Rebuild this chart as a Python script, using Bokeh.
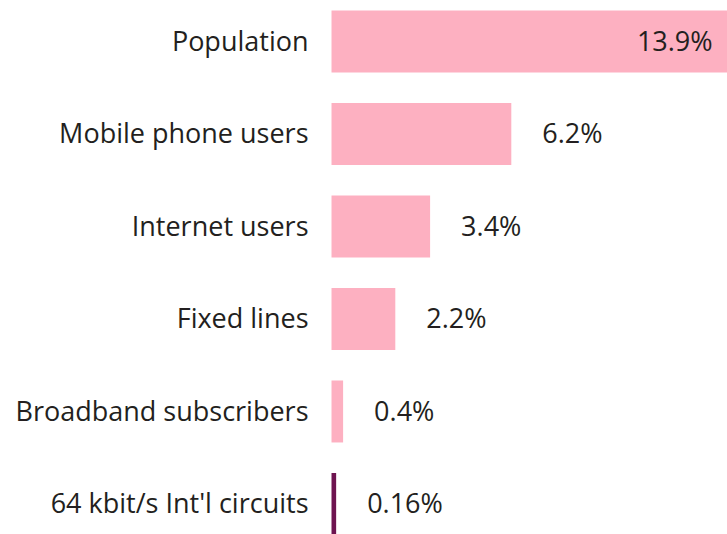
from bokeh.plotting import figure
from bokeh.models import Range1d, ColumnDataSource
from bokeh.core.properties import value
from bokeh.embed import file_html
from bokeh.resources import INLINE

categories = ["Population", "Mobile phone users", "Internet users", "Fixed lines",
              "Broadband subscribers", "64 kbit/s Int'l circuits"]
values = [13.9, 6.2, 3.4, 2.2, 0.4, 0.16]
value_labels = ["13.9%", "6.2%", "3.4%", "2.2%", "0.4%", "0.16%"]
colors = ["#FDB0C1", "#FDB0C1", "#FDB0C1", "#FDB0C1", "#FDB0C1", "#6E1450"]

idx = list(range(len(categories)))
src = ColumnDataSource(dict(y=idx, v=values, c=colors, cat=categories, lab=value_labels))

p = figure(width=727, height=534, output_backend="svg", toolbar_location=None,
           x_range=Range1d(-11.414, 13.655), y_range=Range1d(5.33, -0.443),
           min_border=0, outline_line_color=None,
           x_axis_location=None, y_axis_location=None)
p.xgrid.visible = False
p.ygrid.visible = False
p.background_fill_color = "white"
p.border_fill_color = "white"

p.hbar(y="y", left=0, right="v", height=0.67, fill_color="c", line_color=None, source=src)

FONT = value("Open Sans")
SIZE = "27px"
p.text(x=0, y="y", text="cat", source=src, text_align="right", text_baseline="middle",
       x_offset=-23, y_offset=-1, text_font=FONT, text_font_size=SIZE, text_color="#231F20")

inside = ColumnDataSource(dict(y=idx[:1], v=values[:1], lab=value_labels[:1]))
outside = ColumnDataSource(dict(y=idx[1:], v=values[1:], lab=value_labels[1:]))
p.text(x="v", y="y", text="lab", source=inside, text_align="right", text_baseline="middle",
       x_offset=-22, y_offset=-1, text_font=FONT, text_font_size=SIZE, text_color="#231F20")
p.text(x="v", y="y", text="lab", source=outside, text_align="left", text_baseline="middle",
       x_offset=31, y_offset=-1, text_font=FONT, text_font_size=SIZE, text_color="#231F20")

open("out.html", "w").write(file_html(p, INLINE))
